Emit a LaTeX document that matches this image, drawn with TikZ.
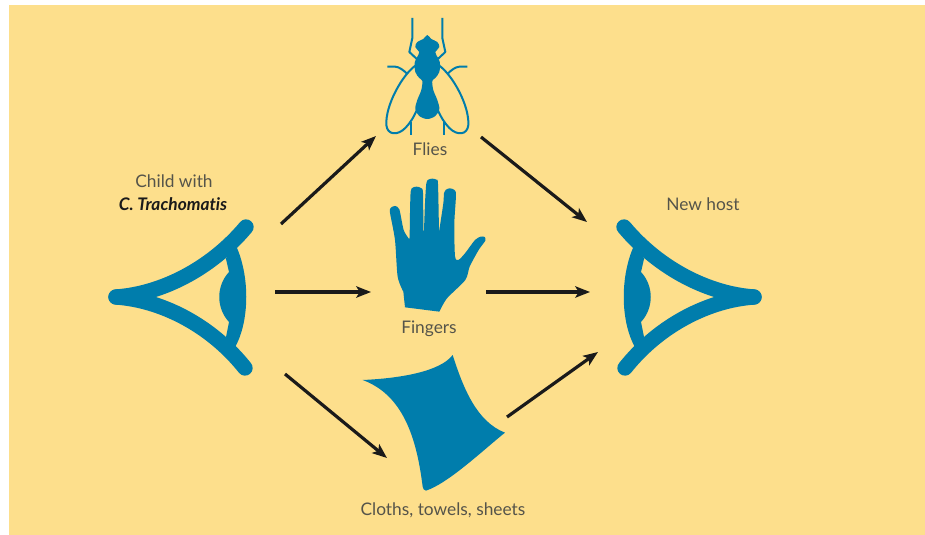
\documentclass[tikz,border=0pt]{standalone}
\usepackage{fontspec,xcolor}
\usetikzlibrary{arrows.meta}
\setmainfont{Lato}[Ligatures=NoCommon]
\definecolor{pagecream}{HTML}{FDDF8C}
\definecolor{iconblue}{HTML}{007DAC}
\definecolor{arrowblack}{HTML}{1A1A1A}
\definecolor{graytext}{HTML}{55544A}
\tikzset{
  flowarrow/.style={draw=arrowblack,line width=2.4pt,-{Stealth[length=11pt,width=8.5pt,inset=2.5pt]}},
  eyeline/.style={draw=iconblue,line width=11.5pt,line cap=round},
  flyline/.style={draw=iconblue,line width=1.5pt,line join=round},
  caption/.style={font=\fontsize{13}{15}\selectfont,text=graytext,inner sep=0pt}
}
\newcommand{\eyeicon}{
\draw[eyeline] (116,297) .. controls (160,294) and (210,270) .. (246,227);
\draw[eyeline] (116,297) .. controls (160,300) and (210,324) .. (245,368);
\fill[iconblue] (232,238) .. controls (251,270) and (251,325) .. (232,352) -- (226,337) -- (229,322) .. controls (216,308) and (216,286) .. (229,272) -- (226,259) -- cycle;
}
\newcommand{\flyhalf}{
\draw[flyline] (-15,18) -- (-15,38) -- (-18,52) -- (-10.5,59);
\draw[flyline] (-40,66.7) -- (-32,66.7) .. controls (-28,67) and (-24,70) .. (-20,74);
\draw[flyline] (-12,65.7) .. controls (-25,75) and (-42,105) .. (-41,125) .. controls (-40,135) and (-30,136) .. (-22,128) .. controls (-12,118) and (-6,100) .. (-3,87);
\draw[flyline] (-16.6,122) -- (-16.6,135);
}
\begin{document}
\begin{tikzpicture}[x=0.75pt,y=-0.75pt]
\useasboundingbox (0,0) rectangle (925,535);
\fill[white] (0,0) rectangle (925,535);
\fill[pagecream] (9,5) rectangle (925,535);
% eyes
\eyeicon
\begin{scope}[xshift=652.5pt,xscale=-1]
\eyeicon
\end{scope}
% fly
\begin{scope}[xshift=320.5pt]
\flyhalf
\end{scope}
\begin{scope}[xshift=320.5pt,xscale=-1]
\flyhalf
\end{scope}
\begin{scope}[shift={(427.3,0)}]
\fill[iconblue] plot[smooth cycle,tension=0.55] coordinates {(0,35) (4,39) (10,42) (12,47) (8,52) (9,55) (12.5,62) (12,72) (8,78) (5,81) (6,90) (10,100) (12,109) (8,116) (0,119) (-8,116) (-12,109) (-10,100) (-6,90) (-5,81) (-8,78) (-12,72) (-12.5,62) (-9,55) (-8,52) (-12,47) (-10,42) (-4,39)};
\end{scope}
% hand
\begin{scope}[shift={(350,170)},scale=0.3333]
\fill[iconblue] (165,412) -- plot[smooth,tension=0.45] coordinates {(160,365) (143,320) (135,210) (120,128) (123,113) (135,108) (148,118) (161,180) (178,208)} -- plot[smooth,tension=0.45] coordinates {(179,200) (180,130) (182,65) (188,53) (200,50) (213,54) (219,68) (220,182)} -- plot[smooth,tension=0.45] coordinates {(222,182) (225,100) (229,40) (235,29) (247,26) (259,29) (264,42) (267,186)} -- plot[smooth,tension=0.45] coordinates {(267,186) (280,100) (282,70) (288,59) (299,55) (312,59) (318,74) (313,160) (315,258) (325,270) (345,250) (375,210) (392,200) (404,201) (406,212) (386,240) (359,290) (346,330) (291,385) (268,425)} -- cycle;
\end{scope}
% cloth
\begin{scope}[shift={(350,345)},scale=0.3333]
\fill[iconblue] (38,105) .. controls (150,100) and (270,80) .. (308,30) .. controls (340,130) and (380,230) .. (465,263) .. controls (400,315) and (295,415) .. (228,437) .. controls (222,436) and (219,432) .. (218,425) .. controls (200,280) and (160,150) .. (38,105) -- cycle;
\end{scope}
% labels
\node[caption] (childlabel) at (174,181) {Child with};
\node[caption,text=arrowblack,font=\fontsize{13}{15}\selectfont\bfseries\itshape] (specieslabel) at (173,204) {C. Trachomatis};
\node[caption] (hostlabel) at (703,204) {New host};
\node[caption] (flieslabel) at (430,149) {Flies};
\node[caption] (fingerslabel) at (429,329) {Fingers};
\node[caption] (clothslabel) at (443,510) {Cloths, towels, sheets};
% arrows
\coordinate (childtop) at (281,224);
\coordinate (flyin) at (376,136);
\coordinate (childmid) at (275,292);
\coordinate (handin) at (371,292);
\coordinate (childlow) at (285,374);
\coordinate (clothin) at (387,458);
\coordinate (flyout) at (481,137);
\coordinate (hosttop) at (587,222);
\coordinate (handout) at (486,292);
\coordinate (hostmid) at (590,292);
\coordinate (clothout) at (507,417);
\coordinate (hostlow) at (598,352);
\draw[flowarrow] (childtop) -- (flyin);
\draw[flowarrow] (childmid) -- (handin);
\draw[flowarrow] (childlow) -- (clothin);
\draw[flowarrow] (flyout) -- (hosttop);
\draw[flowarrow] (handout) -- (hostmid);
\draw[flowarrow] (clothout) -- (hostlow);
\end{tikzpicture}
\end{document}
